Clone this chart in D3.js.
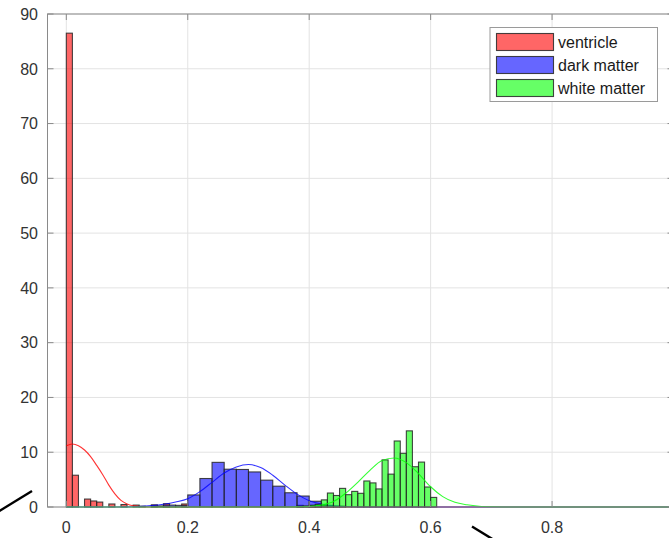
<!DOCTYPE html>
<html>
<head>
<meta charset="utf-8">
<script src="https://cdn.jsdelivr.net/npm/d3@7"></script>
<style>
  html, body { margin: 0; padding: 0; background: #ffffff; overflow: hidden; }
  svg { display: block; }
</style>
</head>
<body>
<svg id="chart" width="669" height="538"></svg>
<script>
// ---- Histogram densities (bin start, bin width, density per bin) ----
const ventricleStart = 0.00;
const ventricleWidth = 0.01;
const ventricleDensity = [86.5, 5.8, 0, 1.45, 1.1, 0.9, 0, 0.55, 0, 0.45,
                          0, 0.35, 0.15, 0, 0.4, 0, 0.6, 0, 0, 0.55,
                          0, 0, 0, 0, 0, 0, 0, 0, 0, 0,
                          0, 0, 0, 0, 0, 0, 0, 0, 0.3, 0,
                          0.3, 0.4];

const darkStart = 0.14;
const darkWidth = 0.02;
const darkDensity = [0.2, 0.35, 0.3, 2.2, 5.2, 8.15, 6.9, 6.85, 6.4, 4.9,
                     3.8, 2.6, 2.0, 1.05, 0.3, 0.15];

const whiteStart = 0.38;
const whiteWidth = 0.01;
const whiteDensity = [0.1, 0.2, 0.3, 0.5, 1.3, 2.55, 2.1, 3.4, 2.25, 2.85,
                      2.5, 4.75, 4.4, 3.3, 8.6, 6.0, 12.05, 9.8, 13.9, 7.35,
                      8.2, 3.65, 1.75];

// ---- Fitted density curves (x, density) ----
const ventricleCurveX = [0, 0.01, 0.02, 0.03, 0.04, 0.05, 0.06, 0.07, 0.08, 0.09, 0.10, 0.11, 0.12, 0.13, 0.14, 0.16, 1.0];
const ventricleCurveY = [11.2, 11.5, 11.2, 10.4, 9.2, 7.6, 5.9, 4.0, 2.4, 1.2, 0.55, 0.22, 0.08, 0.02, 0.005, 0, 0];

const darkCurveX = [0, 0.08, 0.10, 0.12, 0.14, 0.16, 0.18, 0.20, 0.22, 0.24, 0.26, 0.28, 0.30, 0.32, 0.34, 0.36, 0.38, 0.40, 0.42, 0.44, 0.46, 0.48, 0.52, 1.0];
const darkCurveY = [0, 0.005, 0.03, 0.1, 0.25, 0.5, 0.9, 1.5, 2.8, 4.5, 6.2, 7.3, 7.75, 7.2, 5.8, 4.0, 2.35, 1.15, 0.55, 0.22, 0.08, 0.02, 0, 0];

const whiteCurveX = [0, 0.34, 0.36, 0.38, 0.40, 0.42, 0.44, 0.46, 0.48, 0.50, 0.52, 0.54, 0.56, 0.58, 0.60, 0.62, 0.64, 0.66, 0.68, 0.70, 0.72, 0.76, 1.0];
const whiteCurveY = [0, 0, 0.01, 0.03, 0.1, 0.35, 1.0, 2.5, 4.5, 6.7, 8.5, 8.95, 8.1, 6.1, 3.7, 1.9, 0.85, 0.4, 0.14, 0.04, 0.01, 0, 0];

// ---- Axis ticks and legend ----
const xTicks = [0, 0.2, 0.4, 0.6, 0.8, 1];
const xTickLabels = ["0", "0.2", "0.4", "0.6", "0.8"];
const yTicks = [0, 10, 20, 30, 40, 50, 60, 70, 80, 90];
const seriesNames = ["ventricle", "dark matter", "white matter"];
const seriesColors = ["#ff0000", "#0000ff", "#00ff00"];

// ---- Layout ----
const svg = d3.select("#chart");
const plot = { left: 47.5, right: 673.5, top: 14, bottom: 507 };
const x = d3.scaleLinear().domain([-0.031, 1.0]).range([plot.left, plot.right]);
const y = d3.scaleLinear().domain([0, 90]).range([plot.bottom, plot.top]);

const FONT = "'Liberation Sans', Arial, Helvetica, sans-serif";
const AXIS_GRAY = "#8a8a8a";
const TEXT_GRAY = "#333333";
const TICK = 6;

// Grid
const grid = svg.append("g");
grid.selectAll("line.gx").data(xTicks).join("line")
  .attr("x1", d => x(d)).attr("x2", d => x(d))
  .attr("y1", plot.top).attr("y2", plot.bottom)
  .attr("stroke", "#e3e3e3").attr("stroke-width", 1);
grid.selectAll("line.gy").data(yTicks).join("line")
  .attr("x1", plot.left).attr("x2", plot.right)
  .attr("y1", d => y(d)).attr("y2", d => y(d))
  .attr("stroke", "#e3e3e3").attr("stroke-width", 1);

// Histogram + fitted curve per series
const histograms = [
  { start: ventricleStart, width: ventricleWidth, values: ventricleDensity, cx: ventricleCurveX, cy: ventricleCurveY },
  { start: darkStart, width: darkWidth, values: darkDensity, cx: darkCurveX, cy: darkCurveY },
  { start: whiteStart, width: whiteWidth, values: whiteDensity, cx: whiteCurveX, cy: whiteCurveY }
];

const line = d3.line()
  .x(d => x(d[0]))
  .y(d => y(d[1]))
  .curve(d3.curveMonotoneX);

histograms.forEach((h, i) => {
  const bins = h.values.map((v, k) => ({
    x0: +(h.start + k * h.width).toFixed(4),
    x1: +(h.start + (k + 1) * h.width).toFixed(4),
    v
  })).filter(b => b.v > 0);

  svg.append("g").selectAll("rect").data(bins).join("rect")
    .attr("x", b => x(b.x0))
    .attr("width", b => x(b.x1) - x(b.x0))
    .attr("y", b => y(b.v))
    .attr("height", b => y(0) - y(b.v))
    .attr("fill", seriesColors[i])
    .attr("fill-opacity", 0.6)
    .attr("stroke", "#262626")
    .attr("stroke-opacity", 0.85)
    .attr("stroke-width", 1.1);

  svg.append("path")
    .datum(h.cx.map((cx, k) => [cx, h.cy[k]]))
    .attr("d", line)
    .attr("fill", "none")
    .attr("stroke", seriesColors[i])
    .attr("stroke-opacity", 0.8)
    .attr("stroke-width", 1.1);
});

// Axes box
const axes = svg.append("g");
axes.append("rect")
  .attr("x", plot.left).attr("y", plot.top)
  .attr("width", plot.right - plot.left).attr("height", plot.bottom - plot.top)
  .attr("fill", "none").attr("stroke", AXIS_GRAY).attr("stroke-width", 1);

// Tick marks (inward on all four sides)
axes.selectAll("line.xb").data(xTicks).join("line")
  .attr("x1", d => x(d)).attr("x2", d => x(d))
  .attr("y1", plot.bottom).attr("y2", plot.bottom - TICK)
  .attr("stroke", AXIS_GRAY);
axes.selectAll("line.xt").data(xTicks).join("line")
  .attr("x1", d => x(d)).attr("x2", d => x(d))
  .attr("y1", plot.top).attr("y2", plot.top + TICK)
  .attr("stroke", AXIS_GRAY);
axes.selectAll("line.yl").data(yTicks).join("line")
  .attr("x1", plot.left).attr("x2", plot.left + TICK)
  .attr("y1", d => y(d)).attr("y2", d => y(d))
  .attr("stroke", AXIS_GRAY);
axes.selectAll("line.yr").data(yTicks).join("line")
  .attr("x1", plot.right).attr("x2", plot.right - TICK)
  .attr("y1", d => y(d)).attr("y2", d => y(d))
  .attr("stroke", AXIS_GRAY);

// Tick labels
axes.selectAll("text.xl").data(xTickLabels).join("text")
  .attr("x", (d, k) => x(xTicks[k])).attr("y", 533)
  .attr("text-anchor", "middle")
  .attr("font-family", FONT).attr("font-size", 16)
  .attr("fill", TEXT_GRAY)
  .text(d => d);
axes.selectAll("text.yl").data(yTicks).join("text")
  .attr("x", 38).attr("y", d => y(d))
  .attr("dy", "0.36em")
  .attr("text-anchor", "end")
  .attr("font-family", FONT).attr("font-size", 16)
  .attr("fill", TEXT_GRAY)
  .text(d => d);

// Legend
const legend = svg.append("g");
legend.append("rect")
  .attr("x", 490).attr("y", 27.5).attr("width", 167.5).attr("height", 74)
  .attr("fill", "#ffffff").attr("stroke", "#9a9a9a").attr("stroke-width", 1);
const rows = legend.selectAll("g.row").data(seriesNames).join("g")
  .attr("transform", (d, k) => `translate(0, ${33.5 + k * 23})`);
rows.append("rect")
  .attr("x", 496.5).attr("y", 0).attr("width", 57).attr("height", 17)
  .attr("fill", (d, k) => seriesColors[k]).attr("fill-opacity", 0.6)
  .attr("stroke", "#262626").attr("stroke-opacity", 0.85).attr("stroke-width", 1.1);
rows.append("text")
  .attr("x", 558).attr("y", 14.5)
  .attr("font-family", FONT).attr("font-size", 16)
  .attr("fill", "#1a1a1a")
  .text(d => d);

// Stray annotation strokes outside the axes
const strokes = [
  [[-4, 513], [32, 491]],
  [[472, 526.5], [494, 540]]
];
svg.append("g").selectAll("line").data(strokes).join("line")
  .attr("x1", d => d[0][0]).attr("y1", d => d[0][1])
  .attr("x2", d => d[1][0]).attr("y2", d => d[1][1])
  .attr("stroke", "#000").attr("stroke-width", 2.4);
</script>
</body>
</html>
